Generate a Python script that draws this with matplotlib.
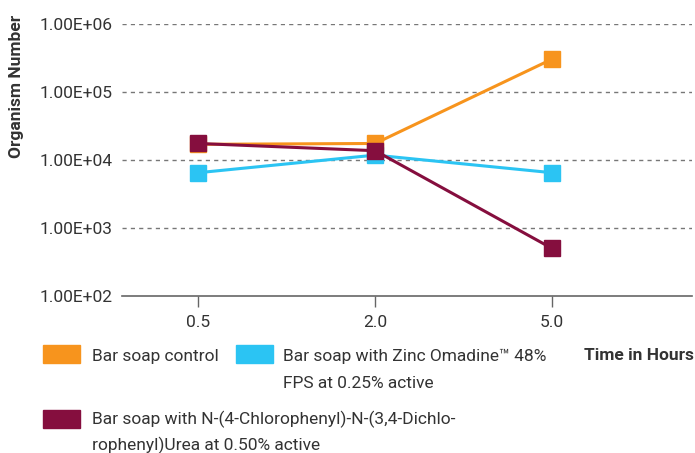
import numpy as np
import matplotlib.pyplot as plt
from matplotlib.patches import Rectangle

plt.rcParams['font.family'] = ['Roboto', 'DejaVu Sans']

# data
hours = ['0.5', '2.0', '5.0']
control = [1.7e4, 1.75e4, 3.05e5]
zinc = [6.5e3, 1.18e4, 6.5e3]
urea = [1.75e4, 1.37e4, 5.0e2]

names = ['Bar soap control',
         'Bar soap with Zinc Omadine\u2122 48%\nFPS at 0.25% active',
         'Bar soap with N-(4-Chlorophenyl)-N-(3,4-Dichlo-\nrophenyl)Urea at 0.50% active']
colors = ['#F7941D', '#2BC4F3', '#850E3E']

W, H = 695, 453
fig = plt.figure(figsize=(W/100, H/100), dpi=100)
ax = fig.add_axes([122/W, 1-296/H, 570/W, 272/H])

x = np.arange(len(hours))
for vals, col in zip([control, zinc, urea], colors):
    ax.plot(x, vals, color=col, lw=2.2, marker='s', ms=11.5, mec=col, zorder=3)

ax.set_yscale('log')
ax.set_ylim(1e2, 1e6)
ax.set_xlim(-0.43, 2.79)
ax.set_xticks(x)
ax.set_xticklabels(hours)
ax.set_yticks([1e2, 1e3, 1e4, 1e5, 1e6])
ax.set_yticklabels(['1.00E+02', '1.00E+03', '1.00E+04', '1.00E+05', '1.00E+06'])
ax.minorticks_off()
ax.tick_params(axis='y', length=0, pad=6.5, labelsize=12.5, colors='#333333')
ax.tick_params(axis='x', length=8, width=1, color='#666666', pad=6, labelsize=12.5, labelcolor='#333333')
for s in ['left', 'right', 'top']:
    ax.spines[s].set_visible(False)
ax.spines['bottom'].set_color('#666666')
ax.spines['bottom'].set_linewidth(1.2)
for v in [1e3, 1e4, 1e5, 1e6]:
    ax.axhline(v, color='#777777', lw=1, ls=(0, (3, 3)), zorder=1)

fig.text(17/W, 1-86/H, 'Organism Number', rotation=90, ha='center', va='center',
         fontsize=12.5, fontweight='bold', color='#333333')

# legend
boxes = [(43, 345), (236, 345), (43, 410)]
baselines = [361, 361, 424]
text_x = [92, 283, 92]
for (bx, by), tx, ty, name, col in zip(boxes, text_x, baselines, names, colors):
    fig.patches.append(Rectangle((bx/W, 1-(by+18)/H), 37/W, 18/H, color=col,
                                 transform=fig.transFigure, figure=fig))
    for i, line in enumerate(name.split('\n')):
        fig.text(tx/W, 1-(ty + 26.5*i)/H, line, ha='left', va='baseline',
                 fontsize=12.5, color='#333333')

fig.text(694/W, 1-360/H, 'Time in Hours', ha='right', va='baseline', fontsize=12.5,
         fontweight='bold', color='#333333')

fig.savefig('out.png', dpi=100)
